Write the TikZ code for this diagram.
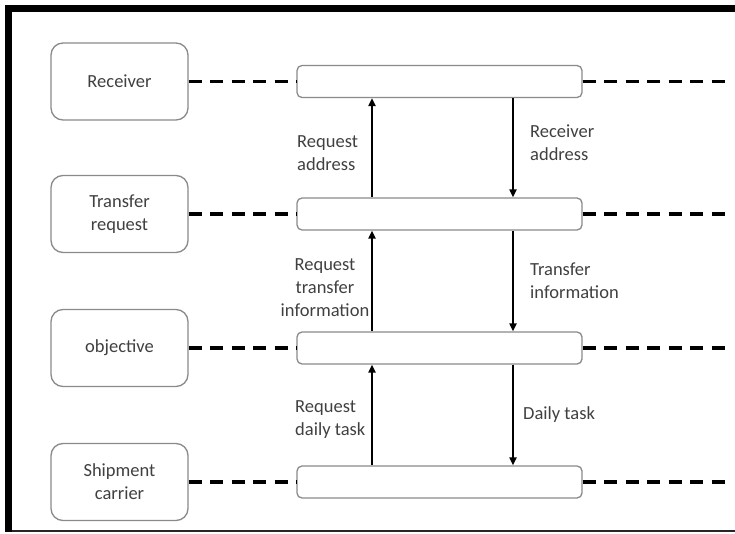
\documentclass[tikz,border=0pt]{standalone}
\usepackage{fontspec}
\setmainfont{Carlito}
\usetikzlibrary{arrows.meta,positioning}
\definecolor{ink}{HTML}{404040}
\definecolor{edge}{HTML}{8A8A8A}

\begin{document}
\begin{tikzpicture}[x=1pt,y=-1pt,
  rolebox/.style={rectangle,rounded corners=12pt,draw=edge,line width=1.3pt,fill=white,minimum width=137pt,minimum height=77pt,align=center,text=ink,font=\fontsize{18.5}{23}\selectfont,inner sep=0pt},
  lifebar/.style={rectangle,rounded corners=5pt,draw=edge,line width=1.3pt,fill=white,minimum width=285pt,minimum height=32pt,inner sep=0pt},
  msg/.style={text=ink,font=\fontsize{18.5}{23}\selectfont,inner sep=0pt},
  link/.style={black,line width=3.5pt,dash pattern=on 13pt off 8.5pt},
  call/.style={-{Triangle[length=8pt,width=7pt]},black,line width=2pt}]
\useasboundingbox (0,0) rectangle (735,534);
% frame
\fill[black] (5,5) rectangle (735,12);
\fill[black] (5,5) rectangle (12,532);
\draw[black!85,line width=1.5pt] (12,531) -- (735,531);

% roles on the left
\node[rolebox] (rcv) at (119.5,81.5) {Receiver};
\node[rolebox] (treq) at (119.5,214) {Transfer\\request};
\node[rolebox] (obj) at (119.5,348) {objective};
\node[rolebox] (ship) at (119.5,482) {Shipment\\carrier};

% bars
\node[lifebar] (b1) at (439.5,81.5) {};
\node[lifebar] (b2) at (439.5,214) {};
\node[lifebar] (b3) at (439.5,348) {};
\node[lifebar] (b4) at (439.5,482) {};

\coordinate (e1) at (727,81.5);
\coordinate (e2) at (727,214);
\coordinate (e3) at (727,348);
\coordinate (e4) at (727,482);

\draw[link] (rcv.east) -- (b1.west);
\draw[link] (treq.east) -- (b2.west);
\draw[link] (obj.east) -- (b3.west);
\draw[link] (ship.east) -- (b4.west);
\draw[link] (b1.east) -- (e1);
\draw[link] (b2.east) -- (e2);
\draw[link] (b3.east) -- (e3);
\draw[link] (b4.east) -- (e4);

% requests go up, answers come down
\draw[call] ([xshift=-67.5pt]b2.north) -- ([xshift=-67.5pt]b1.south);
\draw[call] ([xshift=-67.5pt]b3.north) -- ([xshift=-67.5pt]b2.south);
\draw[call] ([xshift=-67.5pt]b4.north) -- ([xshift=-67.5pt]b3.south);
\draw[call] ([xshift=73.5pt]b1.south) -- ([xshift=73.5pt]b2.north);
\draw[call] ([xshift=73.5pt]b2.south) -- ([xshift=73.5pt]b3.north);
\draw[call] ([xshift=73.5pt]b3.south) -- ([xshift=73.5pt]b4.north);

\node[msg,anchor=west,align=left] (q1) at (297,153) {Request\\address};
\node[msg,align=center] (q2) at (325,288) {Request\\transfer\\information};
\node[msg,anchor=west,align=left] (q3) at (295,420) {Request\\daily task};
\node[msg,anchor=west,align=left] (a1) at (530,143) {Receiver\\address};
\node[msg,anchor=west,align=left] (a2) at (530,281) {Transfer\\information};
\node[msg,anchor=west,align=left] (a3) at (523,415) {Daily task};
\end{tikzpicture}
\end{document}
